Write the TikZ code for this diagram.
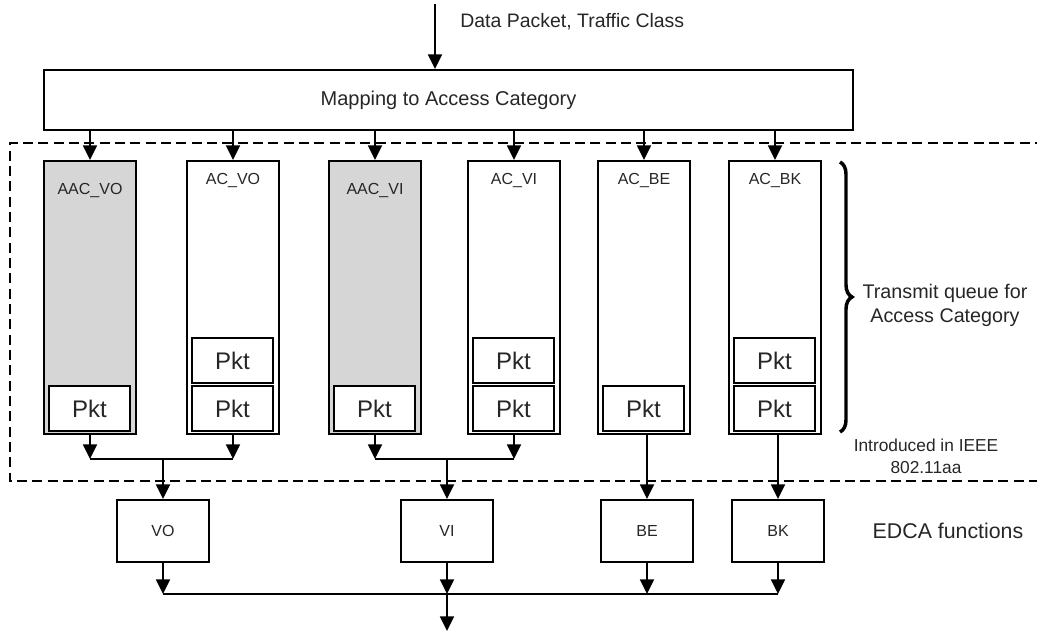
\documentclass[tikz,border=0pt]{standalone}
\usepackage{fontspec}
\setmainfont{Liberation Sans}
\usetikzlibrary{arrows.meta,decorations.pathreplacing,calc}
\begin{document}
\begin{tikzpicture}[x=0.75pt,y=-0.75pt,
  every node/.style={text=black!85, inner sep=0pt},
  arr/.style={line width=1.3pt, -{Triangle[width=10.5pt,length=11pt]}},
  conn/.style={line width=1.3pt},
  qbox/.style={draw, line width=1.5pt, minimum width=69pt, minimum height=204.75pt, anchor=north west},
  grayq/.style={qbox, fill=black!16},
  qlabel/.style={font=\fontsize{12}{14}\selectfont},
  pkt/.style={draw, line width=1.5pt, fill=white, minimum width=60.75pt, minimum height=33.75pt, anchor=north west, font=\fontsize{18}{20}\selectfont},
  ebox/.style={draw, line width=1.5pt, minimum width=69pt, minimum height=46.5pt, anchor=north west, font=\fontsize{12}{14}\selectfont},
  border/.style={line width=1.6pt, dash pattern=on 7.5pt off 4pt},
]
\useasboundingbox (0,0) rectangle (1037,632);

% input
\coordinate (in) at (435,4);
\node[anchor=west, font=\fontsize{14.6}{16}\selectfont] (dp) at (460,22) {Data Packet, Traffic Class};
\node[draw, line width=1.5pt, minimum width=606.75pt, minimum height=45pt, anchor=north west, font=\fontsize{15}{17}\selectfont] (map) at (43,69) {Mapping to Access Category};
\draw[arr] (in) -- (in |- map.north);

% dashed region
\draw[border] (1045,143) -- (10,143) -- (10,481) -- (1045,481);

% queues
\node[grayq] (q1) at (43,160) {};
\node[qbox]  (q2) at (186,160) {};
\node[grayq] (q3) at (328,160) {};
\node[qbox]  (q4) at (467,160) {};
\node[qbox]  (q5) at (597,160) {};
\node[qbox]  (q6) at (728,160) {};

\node[qlabel] (l1) at ($(q1.north)+(0,30)$) {AAC\_VO};
\node[qlabel] (l2) at ($(q2.north)+(0,20)$) {AC\_VO};
\node[qlabel] (l3) at ($(q3.north)+(0,30)$) {AAC\_VI};
\node[qlabel] (l4) at ($(q4.north)+(0,20)$) {AC\_VI};
\node[qlabel] (l5) at ($(q5.north)+(0,20)$) {AC\_BE};
\node[qlabel] (l6) at ($(q6.north)+(0,20)$) {AC\_BK};

% packets
\node[pkt] (p1a) at ($(q1.south west)+(5,-50)$) {Pkt};
\node[pkt] (p2a) at ($(q2.south west)+(5,-50)$) {Pkt};
\node[pkt] (p2b) at ($(q2.south west)+(5,-98)$) {Pkt};
\node[pkt] (p3a) at ($(q3.south west)+(5,-50)$) {Pkt};
\node[pkt] (p4a) at ($(q4.south west)+(5,-50)$) {Pkt};
\node[pkt] (p4b) at ($(q4.south west)+(5,-98)$) {Pkt};
\node[pkt] (p5a) at ($(q5.south west)+(5,-50)$) {Pkt};
\node[pkt] (p6a) at ($(q6.south west)+(5,-50)$) {Pkt};
\node[pkt] (p6b) at ($(q6.south west)+(5,-98)$) {Pkt};

% mapping to queues
\foreach \q in {q1,q2,q3,q4,q5,q6}{
  \draw[arr] (map.south -| \q.north) -- (\q.north);
}

% EDCA boxes
\node[ebox] (vo) at (116,499) {VO};
\node[ebox] (vi) at (400,499) {VI};
\node[ebox] (be) at (600,499) {BE};
\node[ebox] (bk) at (731,499) {BK};

% queues to EDCA
\coordinate (jq) at (0,459);
\draw[arr] (q1.south) -- (q1.south |- jq);
\draw[arr] (q2.south) -- (q2.south |- jq);
\draw[conn] (q1.south |- jq) -- (q2.south |- jq);
\draw[arr] (vo.north |- jq) -- (vo.north);
\draw[arr] (q3.south) -- (q3.south |- jq);
\draw[arr] (q4.south) -- (q4.south |- jq);
\draw[conn] (q3.south |- jq) -- (q4.south |- jq);
\draw[arr] (vi.north |- jq) -- (vi.north);
\draw[arr] (be.north |- q5.south) -- (be.north);
\draw[arr] (bk.north |- q6.south) -- (bk.north);

% EDCA to output
\coordinate (jb) at (0,594);
\foreach \e in {vo,vi,be,bk}{
  \draw[arr] (\e.south) -- (\e.south |- jb);
}
\draw[conn] (vo.south |- jb) -- (bk.south |- jb);
\coordinate (out) at (vi.south |- 0,631);
\draw[arr] (vi.south |- jb) -- (out);

% brace and side texts
\coordinate (bt) at (840,162);
\coordinate (bb) at (840,432);
\draw[line width=2.6pt, decorate, decoration={brace, amplitude=9pt}] (bt) -- (bb);
\node[align=center, font=\fontsize{14.8}{18}\selectfont] (tq) at (945,305) {Transmit queue for\\Access Category};
\node[align=center, font=\fontsize{13}{16.5}\selectfont] (intro) at (926,456) {Introduced in IEEE\\802.11aa};
\node[font=\fontsize{16}{18}\selectfont] (edca) at (948,531) {EDCA functions};
\end{tikzpicture}
\end{document}
